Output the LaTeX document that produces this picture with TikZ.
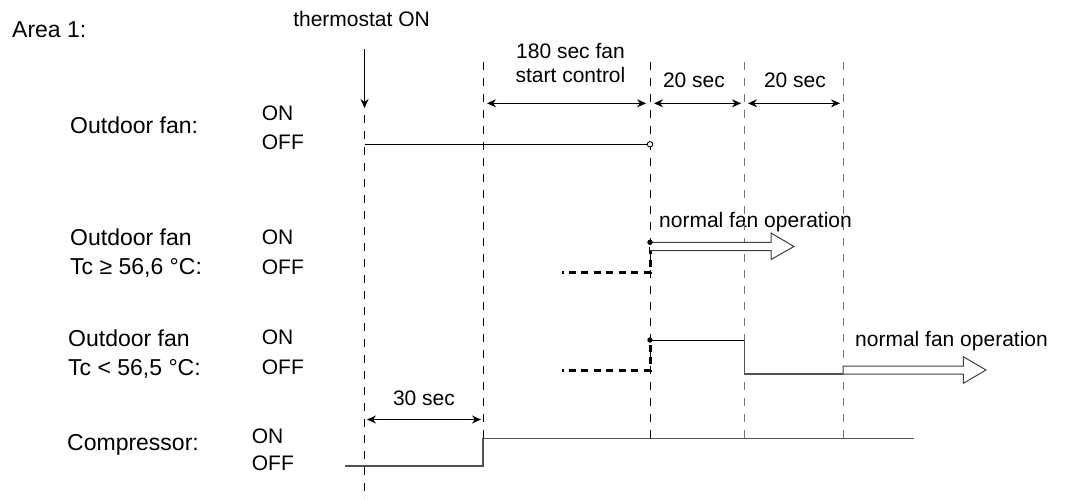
\documentclass[tikz,border=0pt]{standalone}
\usepackage{fontspec}
\setmainfont{Liberation Sans}
\usetikzlibrary{arrows.meta}
\begin{document}
\begin{tikzpicture}[x=1pt,y=-1pt,
  lbl/.style={inner sep=0pt,anchor=base west,font=\fontsize{23}{27}\selectfont},
  onoff/.style={inner sep=0pt,anchor=base west,font=\fontsize{21}{25}\selectfont},
  note/.style={inner sep=0pt,anchor=base,font=\fontsize{21}{25}\selectfont},
  grid/.style={line width=1pt,dash pattern=on 8pt off 8pt},
  gridgray/.style={grid,draw=black!55},
  sig/.style={line width=0.9pt},
  siggray/.style={line width=1.2pt,draw=black!68},
  thick dash/.style={line width=3pt,dash pattern=on 1.5pt off 5pt on 7pt off 5.5pt on 7pt off 5.5pt on 7pt off 5.5pt on 7pt off 5.5pt on 7pt off 5.5pt on 7pt off 5.5pt on 7pt off 5.5pt on 7pt off 5.5pt on 7pt off 5.5pt on 7pt off 5.5pt},
  dim/.style={line width=1pt,{Stealth[length=9pt,width=8pt]}-{Stealth[length=9pt,width=8pt]}},
  hollow/.style={line width=1pt,draw=black!75,fill=white},
]
\useasboundingbox (0,0) rectangle (1068,499);

% texts
\node[lbl] (area) at (12,37.3) {Area 1:};
\node[note,anchor=base east] (thermo) at (430,26.7) {thermostat ON};
\node[note] (t180a) at (570.5,58.3) {180 sec fan};
\node[note] (t180b) at (570.5,82.5) {start control};
\node[note] (t20a) at (694,87) {20 sec};
\node[note] (t20b) at (795,87) {20 sec};
\node[note] (t30) at (424,405) {30 sec};

\node[lbl] (r1) at (70,133.3) {Outdoor fan:};
\node[onoff] (on1) at (261.7,120) {ON};
\node[onoff] (off1) at (261.7,149) {OFF};

\node[lbl] (r2a) at (70,245) {Outdoor fan};
\node[lbl] (r2b) at (70,274) {Tc ≥ 56,6 °C:};
\node[onoff] (on2) at (261.7,244) {ON};
\node[onoff] (off2) at (261.7,274) {OFF};

\node[lbl] (r3a) at (68,346.7) {Outdoor fan};
\node[lbl] (r3b) at (68,375) {Tc < 56,5 °C:};
\node[onoff] (on3) at (261.7,344.3) {ON};
\node[onoff] (off3) at (261.7,374) {OFF};

\node[lbl] (r4) at (67,450) {Compressor:};
\node[onoff] (on4) at (251.7,443.3) {ON};
\node[onoff] (off4) at (251.7,470) {OFF};

\node[note,anchor=base west] (nfo1) at (659,227) {normal fan operation};
\node[note,anchor=base west] (nfo2) at (855,346.7) {normal fan operation};

% vertical time lines
\coordinate (v0t) at (364.5,115); \coordinate (v0b) at (364.5,499);
\coordinate (v1t) at (483,62);  \coordinate (v1b) at (483,438);
\coordinate (v2t) at (650,62);  \coordinate (v2b) at (650,438);
\coordinate (v3t) at (744.5,62); \coordinate (v3b) at (744.5,438);
\coordinate (v4t) at (843,62);  \coordinate (v4b) at (843,438);
\draw[grid] (v0t) -- (v0b);
\draw[grid] (v1t) -- (v1b);
\draw[grid] (v2t) -- (v2b);
\draw[gridgray] (v3t) -- (v3b);
\draw[gridgray] (v4t) -- (v4b);

% thermostat arrow
\coordinate (ta) at (364.5,49); \coordinate (tb) at (364.5,108);
\draw[line width=1pt,-{Stealth[length=9pt,width=8pt]}] (ta) -- (tb);

% dimension arrows
\coordinate (d1a) at (487,103.3); \coordinate (d1b) at (646,103.3);
\coordinate (d2a) at (654,103.3); \coordinate (d2b) at (741,103.3);
\coordinate (d3a) at (748,103.3); \coordinate (d3b) at (840,103.3);
\draw[dim] (d1a) -- (d1b);
\draw[dim] (d2a) -- (d2b);
\draw[dim] (d3a) -- (d3b);
\coordinate (d4a) at (367,419.5); \coordinate (d4b) at (481,419.5);
\draw[dim] (d4a) -- (d4b);

% row 1: outdoor fan
\coordinate (s1a) at (364.5,144.3); \coordinate (s1b) at (650,144.3);
\draw[sig] (s1a) -- ([xshift=-2.6pt]s1b);
\node[circle,draw,line width=0.9pt,fill=white,inner sep=0pt,minimum size=5.5pt] (c1) at (s1b) {};

% row 2
\coordinate (s2a) at (562,272.7); \coordinate (s2b) at (650,272.7); \coordinate (s2c) at (650,242.3);
\draw[thick dash] (s2a) -- (s2b) -- (s2c);
\draw[hollow] (650,242.3) -- (771,242.3) -- (771,233) -- (794,246.5) -- (771,259.5) -- (771,250.7) -- (650,250.7);
\fill (s2c) circle (2.7pt);

% row 3
\coordinate (s3a) at (562,370); \coordinate (s3b) at (650,370); \coordinate (s3c) at (650,340);
\coordinate (s3d) at (744.5,340); \coordinate (s3e) at (744.5,374); \coordinate (s3f) at (843,374);
\draw[thick dash] (s3a) -- (s3b) -- (s3c);
\draw[sig] (s3c) -- (s3d);
\draw[siggray] (s3d) -- (s3e) -- (s3f);
\fill (s3c) circle (2.7pt);
\draw[hollow] (843,374) -- (843,366) -- (963.3,366) -- (963.3,356.7) -- (986,370) -- (963.3,383.3) -- (963.3,374) -- cycle;

% compressor
\coordinate (s4a) at (345,466); \coordinate (s4b) at (483,466); \coordinate (s4c) at (483,438.3); \coordinate (s4d) at (914,438.3);
\draw[siggray] (s4a) -- (s4b) -- (s4c) -- (s4d);
\end{tikzpicture}
\end{document}
